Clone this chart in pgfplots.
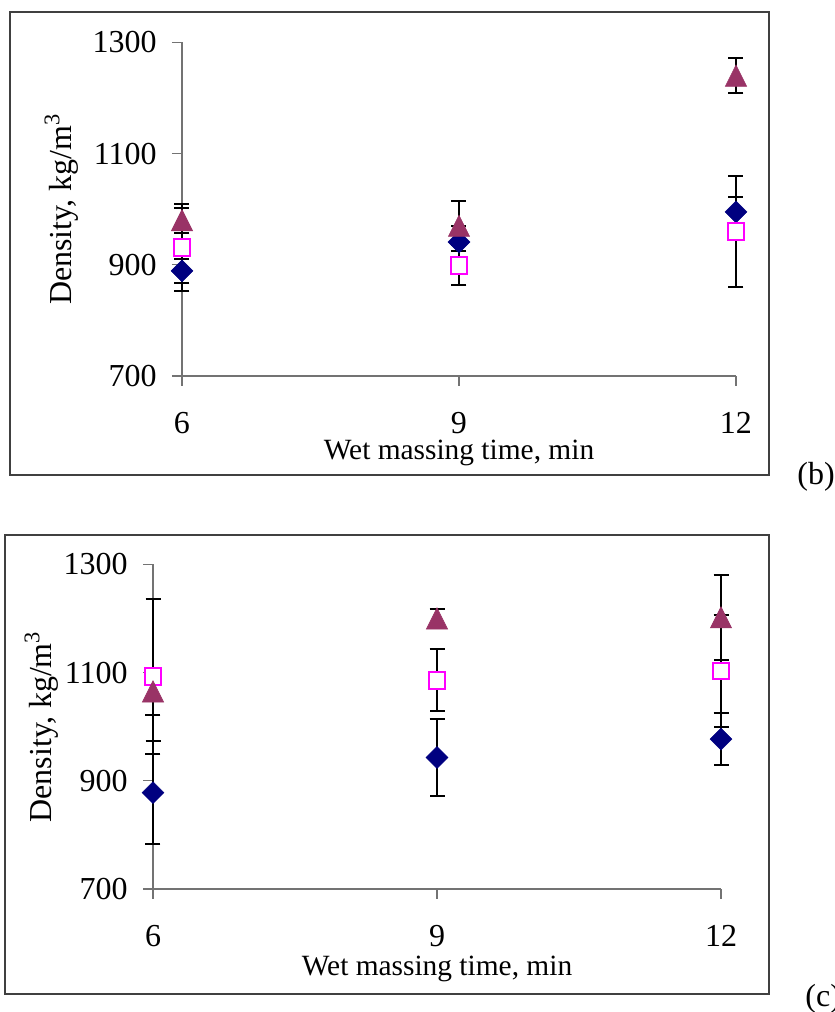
\documentclass[border=0pt]{standalone}
\usepackage{fontspec}
\setmainfont{Liberation Serif}
\usepackage{pgfplots}
\pgfplotsset{compat=1.18}
\definecolor{navyc}{RGB}{0,0,128}
\definecolor{plumc}{RGB}{153,51,102}
\definecolor{magc}{RGB}{255,0,255}
\pgfdeclareplotmark{xltri}{%
  \pgfpathmoveto{\pgfqpoint{0pt}{\pgfplotmarksize}}%
  \pgfpathlineto{\pgfqpoint{\pgfplotmarksize}{-\pgfplotmarksize}}%
  \pgfpathlineto{\pgfqpoint{-\pgfplotmarksize}{-\pgfplotmarksize}}%
  \pgfpathclose
  \pgfusepathqfillstroke}
\newcommand{\fsz}{\fontsize{16}{19}\selectfont}
\newcommand{\fxl}{\fontsize{14.7}{17.5}\selectfont}
\pgfplotsset{
  panel/.style={
    scale only axis, clip=false,
    xmin=6, xmax=12, ymin=700, ymax=1300,
    xtick={6,9,12}, ytick={700,900,1100,1300},
    axis x line=bottom, axis y line=left,
    axis line style={-, black!55, line width=0.6pt},
    tick style={black!55, line width=0.6pt},
    tick align=outside, major tick length=5pt,
    /pgf/number format/assume math mode=true,
    /pgf/number format/1000 sep={},
    tick label style={font=\fsz},
    yticklabel style={anchor=east, inner sep=0pt, xshift=-7.5pt},
    xlabel={Wet massing time, min},
    ylabel={Density, kg/m\textsuperscript{3}},
  },
  ebar/.style={error bars/.cd, y dir=both, y explicit,
    error bar style={black, line width=1pt},
    error mark options={rotate=90, black, line width=1pt, mark size=3.75pt}},
  sdia/.style={only marks, mark=square*, mark size=3.85pt,
    mark options={rotate=45, draw=navyc, fill=navyc, line width=0.3pt}, ebar},
  ssq/.style={only marks, mark=square*, mark size=4.2pt,
    mark options={draw=magc, fill=white, line width=1pt}, ebar},
  stri/.style={only marks, mark=xltri, mark size=5.3pt,
    mark options={draw=plumc, fill=plumc, line width=0.3pt}, ebar},
}
\begin{document}
\begin{tikzpicture}
\path[use as bounding box] (0pt,0pt) rectangle (417.5pt,506pt);
% panel (b)
\draw[black!75, line width=0.75pt] (5pt,268.5pt) rectangle (384.6pt,500pt);
\begin{axis}[panel, at={(91pt,318pt)}, anchor=south west,
  width=277pt, height=166.85pt,
  xticklabel style={anchor=base, yshift=-24pt},
  every axis y label/.style={at={(axis description cs:-0.1986,0.5)}, rotate=90, anchor=base, font=\fsz},
  every axis x label/.style={at={(axis description cs:0.5,-0.2517)}, anchor=base, font=\fxl}]
\addplot[sdia] coordinates {(6,889) +- (0,21) (9,941) +- (0,29) (12,995) +- (0,26)};
\addplot[ssq] coordinates {(6,931) +- (0,79) (9,899) +- (0,36) (12,960) +- (0,100)};
\addplot[stri] coordinates {(6,980) +- (0,22) (9,970) +- (0,45) (12,1240) +- (0,32)};
\end{axis}
\node[anchor=base west, font=\fsz, inner sep=0pt] at (398.5pt,263.5pt) {(b)};
% panel (c)
\draw[black!75, line width=0.75pt] (2.5pt,9pt) rectangle (384.5pt,238.5pt);
\begin{axis}[panel, at={(76.5pt,61.5pt)}, anchor=south west,
  width=284pt, height=162.35pt,
  xticklabel style={anchor=base, yshift=-24pt},
  every axis y label/.style={at={(axis description cs:-0.178,0.5)}, rotate=90, anchor=base, font=\fsz},
  every axis x label/.style={at={(axis description cs:0.5,-0.2679)}, anchor=base, font=\fxl}]
\addplot[sdia] coordinates {(6,878) +- (0,95) (9,943) +- (0,72) (12,977) +- (0,48)};
\addplot[ssq] coordinates {(6,1093) +- (0,143) (9,1086) +- (0,57) (12,1103) +- (0,104)};
\addplot[stri] coordinates {(6,1065) +- (0,44) (9,1200) +- (0,17) (12,1202) +- (0,78)};
\end{axis}
\node[anchor=base west, font=\fsz, inner sep=0pt] at (402.5pt,2.5pt) {(c)};
\end{tikzpicture}
\end{document}
